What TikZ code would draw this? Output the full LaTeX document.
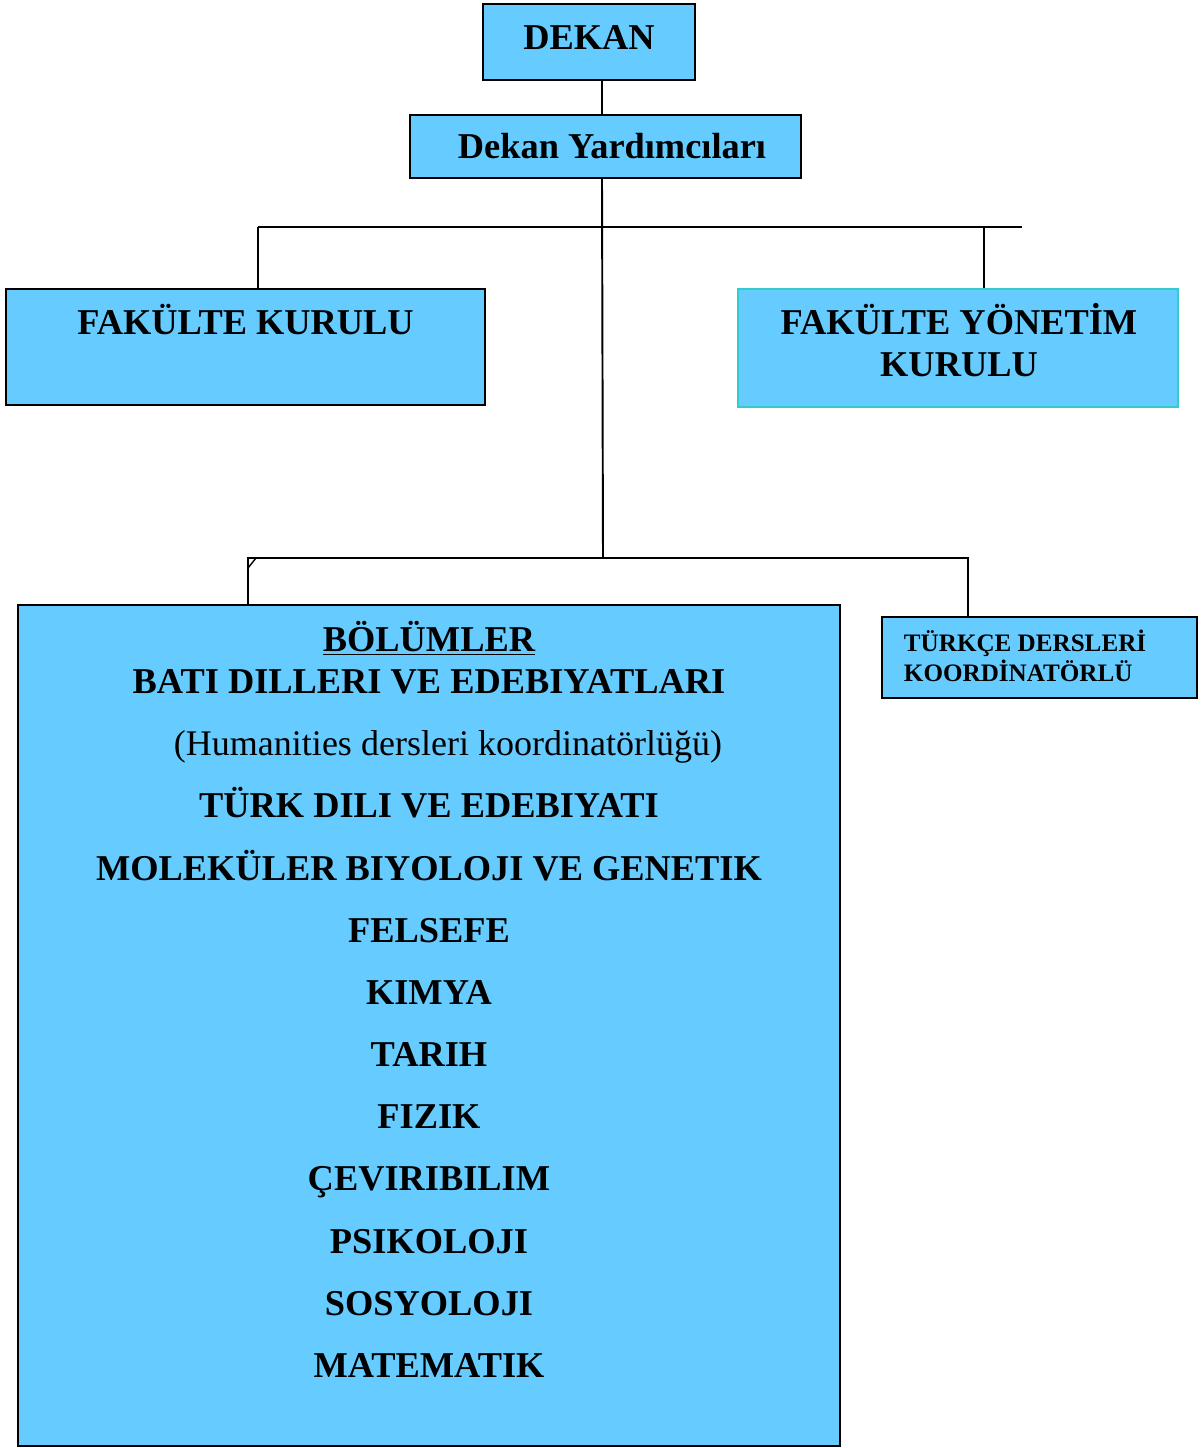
\documentclass[tikz,border=0pt]{standalone}
\usepackage{fontspec}
\setmainfont{Liberation Serif}
\usepackage{tikz}
\usetikzlibrary{positioning}
\definecolor{kutumavi}{HTML}{66CCFF}
\definecolor{turkuaz}{HTML}{33CCCC}
\newcommand{\satir}{\\[11.4pt]}

\begin{document}
\begin{tikzpicture}[x=0.02cm,y=-0.02cm,line width=1.1pt,
  kutu/.style={draw,fill=kutumavi,inner sep=0pt},
  baslik/.style={font=\bfseries\fontsize{20.7}{24}\selectfont,align=center,inner sep=0pt},
  kucuk/.style={font=\bfseries\fontsize{14.3}{17}\selectfont,align=left,inner sep=0pt}]
\useasboundingbox (0,0) rectangle (1203,1448);

% kutular
\node[kutu,baslik,text depth=5.7pt,minimum width=4.24cm,minimum height=1.52cm] (dekan) at (589,42) {DEKAN};
\node[kutu,baslik,minimum width=7.82cm,minimum height=1.26cm] (yard) at (605.5,146.5) {\hspace*{0.26cm}Dekan Yardımcıları};
\node[kutu,minimum width=9.58cm,minimum height=2.32cm] (kurul) at (245.5,347) {};
\node[kutu,draw=turkuaz,minimum width=8.8cm,minimum height=2.36cm] (yonetim) at (958,348) {};
\node[kutu,minimum width=16.44cm,minimum height=16.82cm] (bolumler) at (429,1025.5) {};
\node[kutu,minimum width=6.3cm,minimum height=1.62cm] (turkce) at (1039.5,657.5) {};

% yazilar
\node[baslik,anchor=base] (kurulyazi) at (245.5,334) {FAKÜLTE KURULU};
\node[baslik,anchor=north] (yonetimyazi) at (959,302) {FAKÜLTE YÖNETİM\\KURULU};
\node[kucuk,anchor=north west] (turkceyazi) at (903,629) {TÜRKÇE DERSLERİ\\KOORDİNATÖRLÜ};
\node[baslik,anchor=north] (liste) at (429,620) {\underline{BÖLÜMLER}\\
BATI DILLERI VE EDEBIYATLARI\satir
\hspace*{0.76cm}{\mdseries\fontsize{20.5}{24}\selectfont (Humanities dersleri koordinatörlüğü)}\satir
TÜRK DILI VE EDEBIYATI\satir
MOLEKÜLER BIYOLOJI VE GENETIK\satir
FELSEFE\satir
KIMYA\satir
TARIH\satir
FIZIK\satir
ÇEVIRIBILIM\satir
PSIKOLOJI\satir
SOSYOLOJI\satir
MATEMATIK};

% baglantilar
\coordinate (eksen) at (602,227);
\coordinate (ustsol) at (258,227);
\coordinate (ustsag) at (1022,227);
\coordinate (ustdal) at (984,227);
\coordinate (altdugum) at (603,558);
\coordinate (altsol) at (248,558);
\coordinate (altsag) at (968,558);

\draw (dekan.south -| eksen) -- (yard.north -| eksen);
\draw (yard.south -| eksen) -- (altdugum);
\draw (ustsol) -- (ustsag);
\draw (ustsol) -- (ustsol |- kurul.north);
\draw (ustdal) -- (ustdal |- yonetim.north);
\draw (bolumler.north -| altsol) -- (altsol) -- (altsag) -- (altsag |- turkce.north);
\draw[line width=0.8pt] (altsol) ++(0,10) -- ++(8,-10);
\end{tikzpicture}
\end{document}
